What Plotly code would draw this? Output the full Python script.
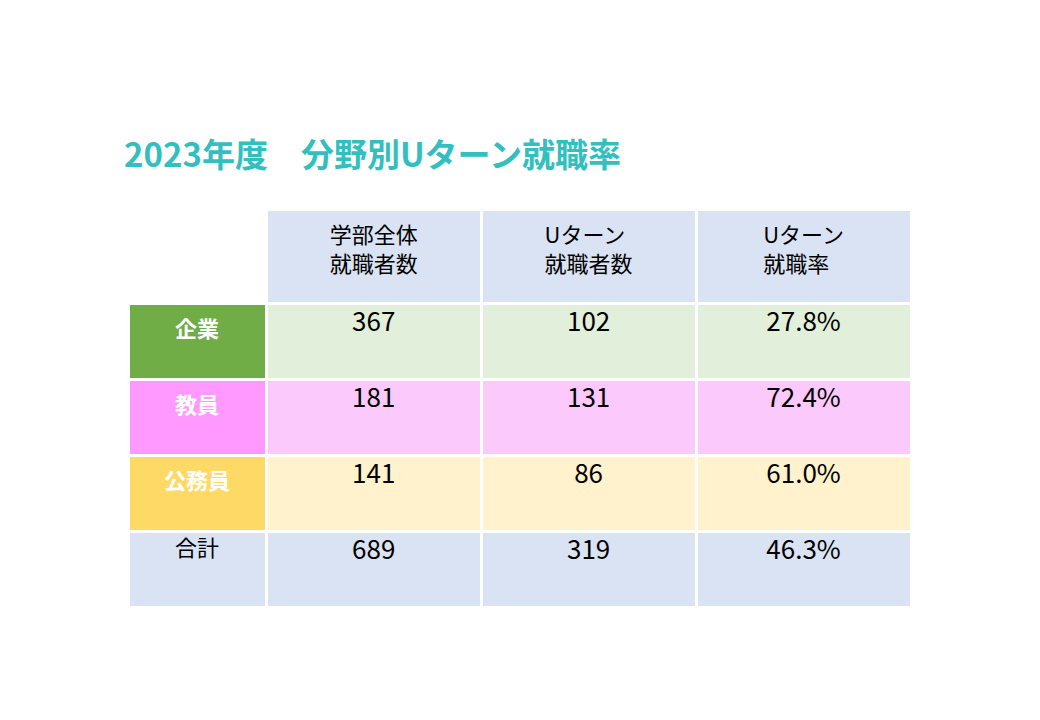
import plotly.graph_objects as go

header = ["", "学部全体<br>就職者数", "Uターン<br>就職者数", "Uターン<br>就職率"]
categories = ["企業", "教員", "公務員", "合計"]
total_employed = [367, 181, 141, 689]
uturn_employed = [102, 131, 86, 319]
uturn_rate = ["27.8%", "72.4%", "61.0%", "46.3%"]

cat_fill = ["#70AD47", "#FF99FF", "#FFD966", "#DAE3F3"]
row_fill = ["#E2EFDA", "#FCC9FC", "#FFF2CC", "#DAE3F3"]
cat_font = ["white", "white", "white", "black"]

W, H = 1040, 720
font = "Noto Sans CJK JP"

fig = go.Figure(go.Table(
    domain=dict(x=[120 / W, 903 / W], y=[1 - 602 / H, 1 - 201 / H]),
    columnwidth=[137, 213, 213, 213],
    header=dict(
        values=header,
        fill_color=["white", "#DAE3F3", "#DAE3F3", "#DAE3F3"],
        line=dict(color="white", width=3),
        align="center",
        height=94,
        font=dict(family=font, size=22, color="black"),
    ),
    cells=dict(
        values=[["<b>%s</b>" % c if i < 3 else c for i, c in enumerate(categories)],
                total_employed, uturn_employed, uturn_rate],
        fill_color=[cat_fill, row_fill, row_fill, row_fill],
        line=dict(color="white", width=3),
        align="center",
        height=76,
        font=dict(family=font, size=[22, 26, 26, 26],
                  color=[cat_font, "black", "black", "black"]),
    ),
))

fig.add_annotation(
    text="<b>2023年度　分野別Uターン就職率</b>",
    x=114 / W, y=1 - 145 / H, xref="paper", yref="paper",
    xanchor="left", yanchor="middle", showarrow=False,
    font=dict(family=font, size=33, color="#33BFBF"),
)

fig.update_layout(
    width=W, height=H,
    margin=dict(l=0, r=0, t=0, b=0),
    paper_bgcolor="white",
    plot_bgcolor="white",
)

fig.write_html("out.html")
